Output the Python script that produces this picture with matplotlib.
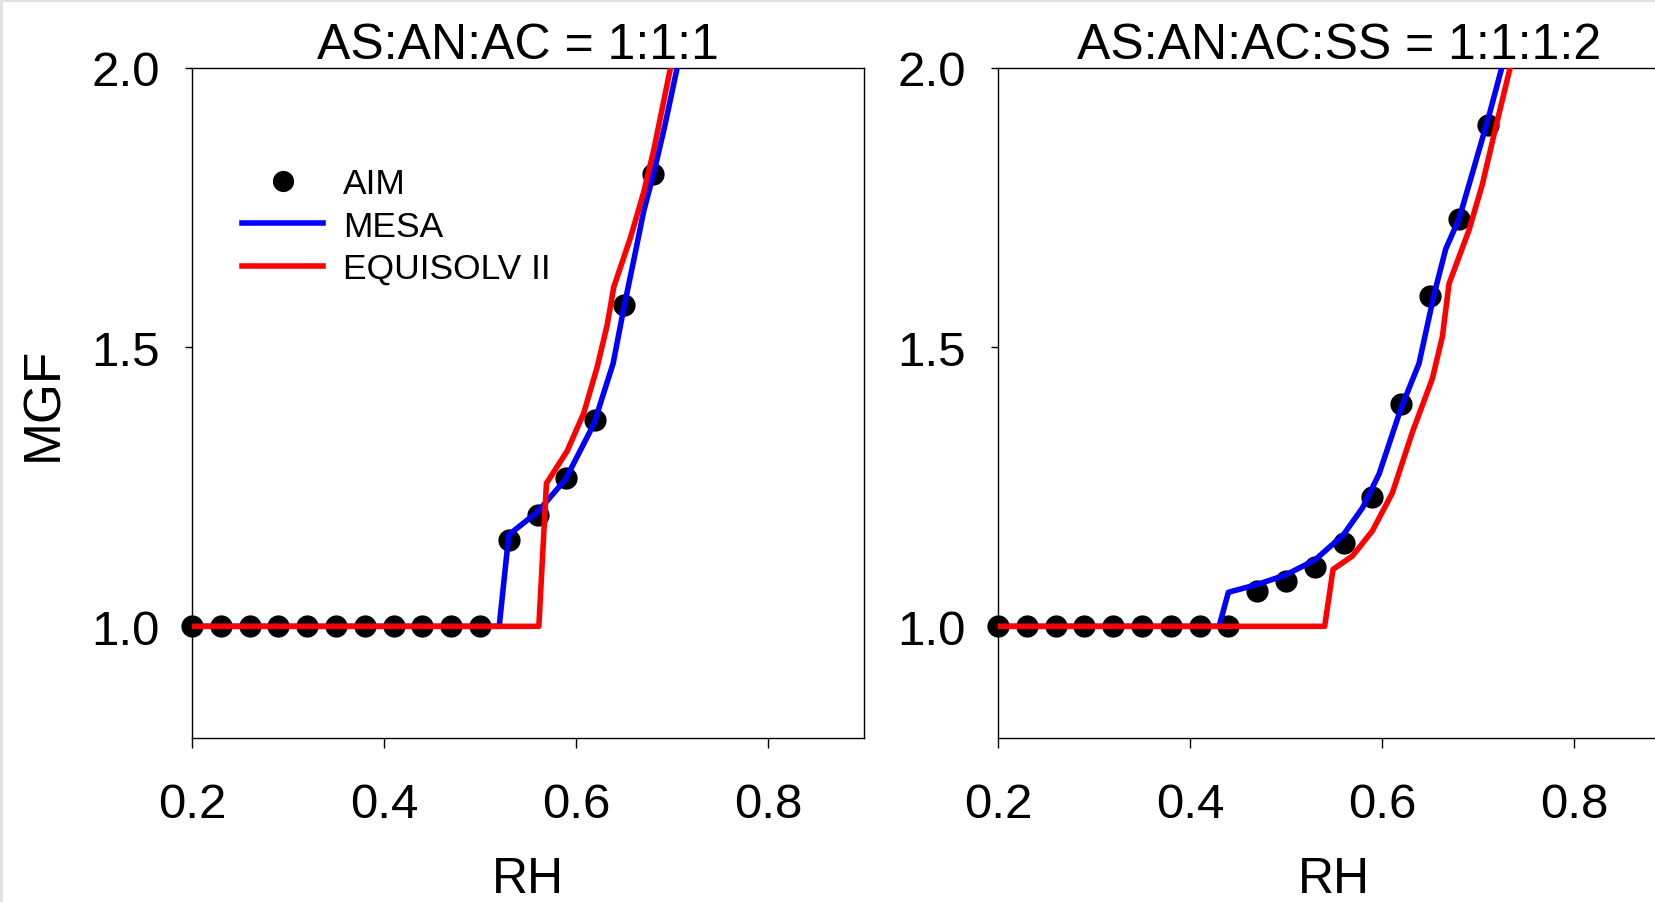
import matplotlib
matplotlib.use("Agg")
import matplotlib.pyplot as plt
from matplotlib.lines import Line2D

plt.rcParams['font.family'] = ['Liberation Sans', 'DejaVu Sans']

# ---------------- data ----------------
titles = ["AS:AN:AC = 1:1:1", "AS:AN:AC:SS = 1:1:1:2"]
legend_labels = ["AIM", "MESA", "EQUISOLV II"]
x_ticks = [0.2, 0.4, 0.6, 0.8]
y_ticks = [1.0, 1.5, 2.0]

# Left panel
aim1_rh = [0.20, 0.23, 0.26, 0.29, 0.32, 0.35, 0.38, 0.41, 0.44, 0.47, 0.50,
           0.53, 0.56, 0.59, 0.62, 0.65, 0.68]
aim1_mgf = [1.0, 1.0, 1.0, 1.0, 1.0, 1.0, 1.0, 1.0, 1.0, 1.0, 1.0,
            1.155, 1.20, 1.265, 1.37, 1.575, 1.81]
mesa1_rh = [0.20, 0.520, 0.530, 0.560, 0.589, 0.6185, 0.6387, 0.6498, 0.6609,
            0.6706, 0.681, 0.6922, 0.7053]
mesa1_mgf = [1.0, 1.0, 1.164, 1.205, 1.263, 1.362, 1.471, 1.570, 1.662,
             1.744, 1.812, 1.894, 2.0]
eq1_rh = [0.20, 0.5613, 0.5692, 0.5908, 0.6081, 0.622, 0.6324, 0.6394, 0.6567,
          0.6706, 0.681, 0.6984]
eq1_mgf = [1.0, 1.0, 1.256, 1.314, 1.382, 1.464, 1.539, 1.608, 1.696,
           1.778, 1.853, 2.0]

# Right panel
aim2_rh = [0.20, 0.23, 0.26, 0.29, 0.32, 0.35, 0.38, 0.41, 0.44,
           0.47, 0.50, 0.53, 0.56, 0.59, 0.62, 0.65, 0.68, 0.71]
aim2_mgf = [1.0, 1.0, 1.0, 1.0, 1.0, 1.0, 1.0, 1.0, 1.0,
            1.063, 1.081, 1.106, 1.149, 1.231, 1.399, 1.592, 1.730, 1.898]
mesa2_rh = [0.20, 0.4303, 0.44, 0.4702, 0.4997, 0.5303, 0.5598, 0.5796, 0.597,
            0.6195, 0.6386, 0.6542, 0.6664, 0.6803, 0.6942, 0.7115, 0.7247]
mesa2_mgf = [1.0, 1.0, 1.061, 1.075, 1.092, 1.119, 1.164, 1.212, 1.273,
             1.389, 1.471, 1.594, 1.676, 1.730, 1.812, 1.915, 2.0]
eq2_rh = [0.20, 0.5403, 0.549, 0.5692, 0.590, 0.6108, 0.6317, 0.6525, 0.6629,
          0.6699, 0.6907, 0.7046, 0.7185, 0.7334]
eq2_mgf = [1.0, 1.0, 1.102, 1.126, 1.171, 1.239, 1.348, 1.444, 1.519,
           1.614, 1.710, 1.792, 1.894, 2.0]

panels = [
    (aim1_rh, aim1_mgf, mesa1_rh, mesa1_mgf, eq1_rh, eq1_mgf),
    (aim2_rh, aim2_mgf, mesa2_rh, mesa2_mgf, eq2_rh, eq2_mgf),
]

# ---------------- figure ----------------
W, H = 1656, 903
fig = plt.figure(figsize=(W / 100, H / 100), dpi=100)

ax_left_px = [192, 998]
ax_w_px = 672
ax_top_px, ax_bot_px = 69, 739
title_x = [0.485, 0.507]

LW = 4.0
TICK_FS = 35.5
for i, (ar, am, mr, mm, er, em) in enumerate(panels):
    ax = fig.add_axes([ax_left_px[i] / W, 1 - ax_bot_px / H,
                       ax_w_px / W, (ax_bot_px - ax_top_px) / H])
    ax.plot(ar, am, 'o', color='black', markersize=15, zorder=2, clip_on=False,
            label=legend_labels[0])
    ax.plot(mr, mm, '-', color='#0000ff', lw=LW, zorder=3, label=legend_labels[1])
    ax.plot(er, em, '-', color='#ff0000', lw=LW, zorder=4, label=legend_labels[2])
    ax.set_xlim(0.2, 0.9)
    ax.set_ylim(0.8, 2.0)
    ax.set_xticks(x_ticks)
    ax.set_xticklabels([f"{t:.1f}" for t in x_ticks])
    ax.set_yticks(y_ticks)
    ax.set_yticklabels([f"{t:.1f}" for t in y_ticks])
    ax.tick_params(axis='x', direction='out', length=7.5, width=1.0,
                   labelsize=TICK_FS, pad=24)
    ax.tick_params(axis='y', direction='out', length=5, width=1.0,
                   labelsize=TICK_FS, pad=18)
    for s in ax.spines.values():
        s.set_linewidth(1.0)
        s.set_color('black')
    ax.set_title(titles[i], fontsize=36, x=title_x[i], pad=3)
    ax.set_xlabel("RH", fontsize=36)
    ax.xaxis.set_label_coords(0.5, (ax_bot_px - 857) / (ax_bot_px - ax_top_px))
    if i == 0:
        ax.set_ylabel("MGF", fontsize=37)
        ax.yaxis.set_label_coords((68 - 192) / ax_w_px, 0.5)
        leg = ax.legend(loc='upper left',
                        bbox_to_anchor=(242 / W, 1 - 168 / H),
                        bbox_transform=fig.transFigure,
                        frameon=False, fontsize=25.5, numpoints=1,
                        handlelength=2.3, handletextpad=0.55,
                        labelspacing=0.27, borderpad=0, borderaxespad=0,
                        markerscale=0.95)

# faint border on top/left like the reference
fig.add_artist(Line2D([0, 1], [1 - 1 / H, 1 - 1 / H], transform=fig.transFigure,
                      color='#e0e0e0', lw=2))
fig.add_artist(Line2D([1 / W, 1 / W], [0, 1], transform=fig.transFigure,
                      color='#e0e0e0', lw=2))

fig.savefig("out.png", dpi=100)
